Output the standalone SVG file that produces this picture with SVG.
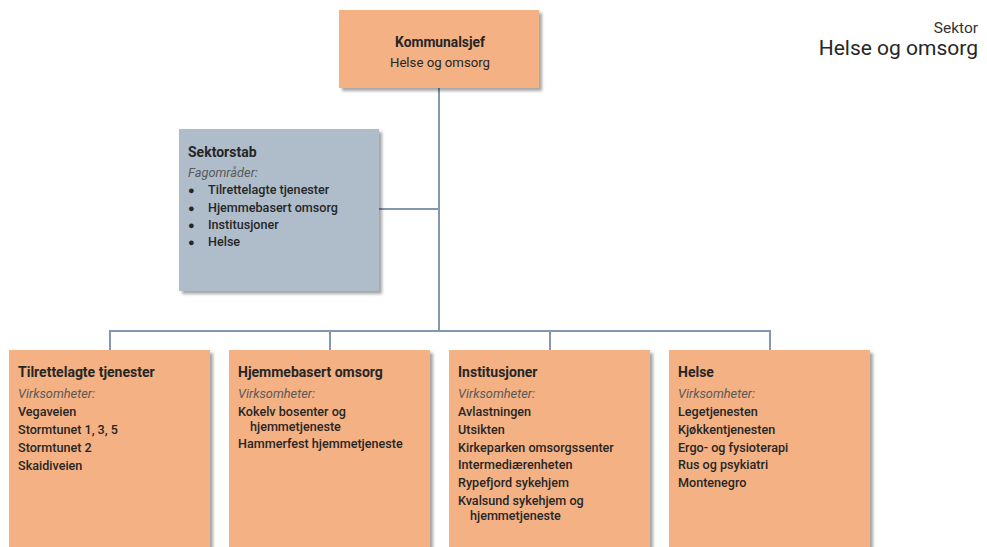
<svg xmlns="http://www.w3.org/2000/svg" width="987" height="547" viewBox="0 0 987 547">
<defs>
<filter id="sh" x="-10%" y="-10%" width="130%" height="130%">
<feDropShadow dx="3" dy="3" stdDeviation="1.5" flood-color="#000" flood-opacity="0.35"/>
</filter>
</defs>
<style>
text{font-family:Roboto,"Liberation Sans",sans-serif;fill:#262626;}
.o{fill:#F4B183;filter:url(#sh);}
.b{fill:#AFBDCB;filter:url(#sh);}
.t{font-size:14px;font-weight:bold;}
.i{font-size:12.8px;font-style:italic;fill:#595959;}
.n{font-size:12.6px;font-weight:500;}
.c{fill:none;stroke:#8497B0;stroke-width:2;}
</style>
<rect width="987" height="547" fill="#fff"/>
<g id="connectors">
<path class="c" d="M439 88V331M379 209H439M110 350V331H770V350M330 331V350M550 331V350"/>
</g>
<g id="kommunalsjef">
<rect class="o" x="339" y="10" width="200" height="78"/>
<text class="t" x="440" y="47" text-anchor="middle" style="font-size:13.8px">Kommunalsjef</text>
<text x="440" y="67" text-anchor="middle" style="font-size:13.2px">Helse og omsorg</text>
</g>
<g id="sektorstab">
<rect class="b" x="179" y="129" width="200" height="162"/>
<text class="t" x="188" y="157">Sektorstab</text>
<text class="i" x="188" y="177">Fagområder:</text>
<g class="n">
<text x="188" y="194" style="font-size:11px">●</text><text x="208" y="194">Tilrettelagte tjenester</text>
<text x="188" y="212" style="font-size:11px">●</text><text x="208" y="212">Hjemmebasert omsorg</text>
<text x="188" y="229" style="font-size:11px">●</text><text x="208" y="229">Institusjoner</text>
<text x="188" y="246" style="font-size:11px">●</text><text x="208" y="246">Helse</text>
</g>
</g>
<g id="tilrettelagte">
<rect class="o" x="9" y="350" width="201" height="210"/>
<text class="t" x="18" y="377">Tilrettelagte tjenester</text>
<text class="i" x="18" y="398">Virksomheter:</text>
<text class="n" x="18" y="416">Vegaveien</text>
<text class="n" x="18" y="434">Stormtunet 1, 3, 5</text>
<text class="n" x="18" y="452">Stormtunet 2</text>
<text class="n" x="18" y="470">Skaidiveien</text>
</g>
<g id="hjemmebasert">
<rect class="o" x="229" y="350" width="201" height="210"/>
<text class="t" x="238" y="377">Hjemmebasert omsorg</text>
<text class="i" x="238" y="398">Virksomheter:</text>
<text class="n" x="238" y="416">Kokelv bosenter og</text>
<text class="n" x="250" y="431">hjemmetjeneste</text>
<text class="n" x="238" y="448">Hammerfest hjemmetjeneste</text>
</g>
<g id="institusjoner">
<rect class="o" x="449" y="350" width="201" height="210"/>
<text class="t" x="458" y="377">Institusjoner</text>
<text class="i" x="458" y="398">Virksomheter:</text>
<text class="n" x="458" y="416">Avlastningen</text>
<text class="n" x="458" y="434">Utsikten</text>
<text class="n" x="458" y="452">Kirkeparken omsorgssenter</text>
<text class="n" x="458" y="469">Intermediærenheten</text>
<text class="n" x="458" y="487">Rypefjord sykehjem</text>
<text class="n" x="458" y="505">Kvalsund sykehjem og</text>
<text class="n" x="470" y="520">hjemmetjeneste</text>
</g>
<g id="helse">
<rect class="o" x="669" y="350" width="201" height="210"/>
<text class="t" x="678" y="377">Helse</text>
<text class="i" x="678" y="398">Virksomheter:</text>
<text class="n" x="678" y="416">Legetjenesten</text>
<text class="n" x="678" y="434">Kjøkkentjenesten</text>
<text class="n" x="678" y="452">Ergo- og fysioterapi</text>
<text class="n" x="678" y="469">Rus og psykiatri</text>
<text class="n" x="678" y="487">Montenegro</text>
</g>
<g id="sektor-title">
<text x="978" y="33" text-anchor="end" style="font-size:15.5px;fill:#333">Sektor</text>
<text x="978" y="55" text-anchor="end" style="font-size:21px;fill:#262626">Helse og omsorg</text>
</g>
</svg>
